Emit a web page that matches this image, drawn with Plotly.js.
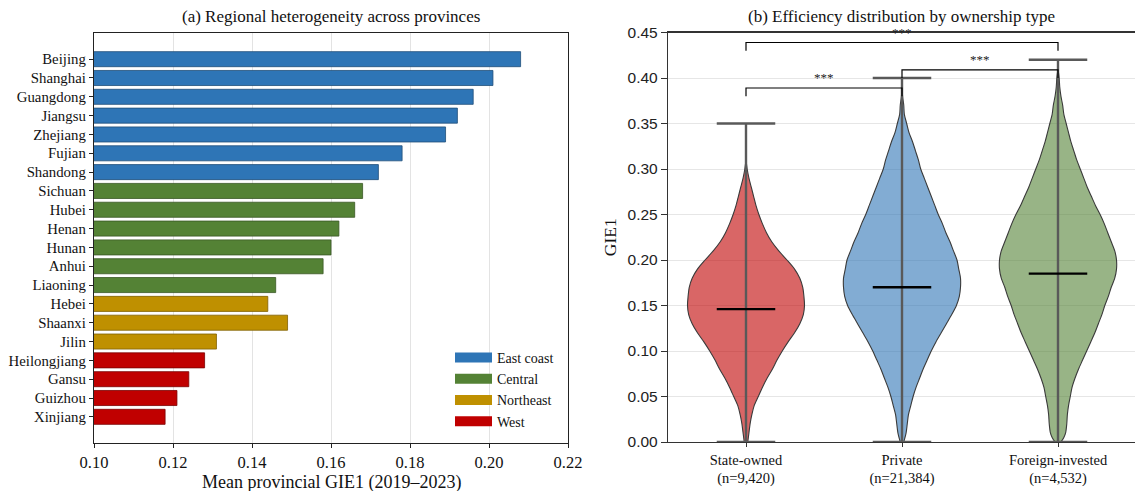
<!DOCTYPE html>
<html>
<head>
<meta charset="utf-8">
<script src="https://cdn.plot.ly/plotly-3.0.1.min.js"></script>
<style>
  html, body { margin: 0; padding: 0; background: #ffffff; }
  #chart { width: 1135px; height: 491px; }
</style>
</head>
<body>
<div id="chart"></div>
<script>
// ---------- Panel (a): provincial means ----------
const provinces = ["Beijing", "Shanghai", "Guangdong", "Jiangsu", "Zhejiang", "Fujian", "Shandong",
  "Sichuan", "Hubei", "Henan", "Hunan", "Anhui", "Liaoning", "Hebei", "Shaanxi", "Jilin",
  "Heilongjiang", "Gansu", "Guizhou", "Xinjiang"];
const provinceGIE = [0.208, 0.201, 0.196, 0.192, 0.189, 0.178, 0.172,
  0.168, 0.166, 0.162, 0.160, 0.158, 0.146, 0.144, 0.149, 0.131,
  0.128, 0.124, 0.121, 0.118];
const provinceRegion = ["East coast", "East coast", "East coast", "East coast", "East coast", "East coast", "East coast",
  "Central", "Central", "Central", "Central", "Central", "Central", "Northeast", "Northeast", "Northeast",
  "West", "West", "West", "West"];
const regionNames = ["East coast", "Central", "Northeast", "West"];

// ---------- Panel (b): distributions by ownership ----------
const ownershipLabels = ["State-owned<br>(n=9,420)", "Private<br>(n=21,384)", "Foreign-invested<br>(n=4,532)"];
const ownershipMin = [0.00, 0.00, 0.00];
const ownershipMax = [0.35, 0.40, 0.42];
const ownershipMean = [0.146, 0.170, 0.185];

// kernel density profiles (scaled to peak = 1) on a GIE1 grid
const stateGrid = [0.000, 0.010, 0.020, 0.030, 0.040, 0.050, 0.060, 0.070, 0.080, 0.090, 0.100, 0.110, 0.120, 0.130,
  0.140, 0.150, 0.160, 0.170, 0.180, 0.190, 0.200, 0.210, 0.220, 0.230, 0.240, 0.250, 0.260, 0.270, 0.280, 0.290, 0.300, 0.310];
const stateDensity = [0.03, 0.05, 0.07, 0.10, 0.14, 0.21, 0.28, 0.36, 0.45, 0.53, 0.62, 0.72, 0.83, 0.92,
  0.98, 1.00, 0.99, 0.97, 0.92, 0.83, 0.70, 0.56, 0.44, 0.35, 0.28, 0.22, 0.17, 0.13, 0.09, 0.05, 0.02, 0.00];

const privateGrid = [0.000, 0.010, 0.020, 0.030, 0.040, 0.050, 0.060, 0.070, 0.080, 0.090, 0.100, 0.110, 0.120, 0.130,
  0.140, 0.150, 0.160, 0.170, 0.180, 0.190, 0.200, 0.210, 0.220, 0.230, 0.240, 0.250, 0.260, 0.270, 0.280, 0.290,
  0.300, 0.310, 0.320, 0.330, 0.340, 0.350, 0.360, 0.370, 0.380, 0.395];
const privateDensity = [0.03, 0.07, 0.09, 0.11, 0.15, 0.19, 0.24, 0.30, 0.36, 0.43, 0.50, 0.58, 0.67, 0.76,
  0.85, 0.93, 0.98, 1.00, 1.00, 0.97, 0.94, 0.88, 0.82, 0.75, 0.69, 0.62, 0.56, 0.50, 0.44, 0.38,
  0.32, 0.28, 0.23, 0.18, 0.12, 0.08, 0.04, 0.03, 0.01, 0.00];

const foreignGrid = [0.000, 0.005, 0.010, 0.020, 0.030, 0.040, 0.050, 0.060, 0.070, 0.080, 0.090, 0.100, 0.110, 0.120,
  0.130, 0.140, 0.150, 0.160, 0.170, 0.180, 0.190, 0.200, 0.210, 0.220, 0.230, 0.240, 0.250, 0.260, 0.270, 0.280,
  0.290, 0.300, 0.310, 0.320, 0.330, 0.340, 0.350, 0.360, 0.370, 0.380, 0.390, 0.400, 0.410];
const foreignDensity = [0.05, 0.10, 0.13, 0.15, 0.16, 0.18, 0.21, 0.24, 0.29, 0.35, 0.42, 0.49, 0.56, 0.63,
  0.69, 0.75, 0.80, 0.86, 0.91, 0.97, 1.00, 1.00, 0.97, 0.91, 0.85, 0.79, 0.72, 0.64, 0.57, 0.50,
  0.44, 0.38, 0.32, 0.27, 0.22, 0.18, 0.14, 0.10, 0.08, 0.05, 0.03, 0.02, 0.00];

// pairwise significance tests
const sigPairs = [[1, 2], [2, 3], [1, 3]];
const sigBase = [0.380, 0.400, 0.430];
const sigTop = [0.389, 0.409, 0.439];
const sigLabels = ["***", "***", "***"];

// ---------- styling ----------
const SERIF = "Liberation Serif, Times New Roman, serif";
const SANS = "Liberation Sans, Arial, sans-serif";
const regionFill = { "East coast": "#2E75B6", "Central": "#548235", "Northeast": "#BF9000", "West": "#C00000" };
const regionEdge = { "East coast": "#1F4E79", "Central": "#385723", "Northeast": "#7F6000", "West": "#7A0000" };
const violinFill = ["rgba(192,0,0,0.6)", "rgba(46,117,182,0.6)", "rgba(84,130,53,0.6)"];
const violinWidth = 0.75;           // full width at density peak (category units)
const capHalf = violinWidth / 4;    // half-length of extrema / mean lines

const traces = [];

// bars, one trace per region so that each gets a legend colour
regionNames.forEach(function (reg) {
  const ys = [], xs = [];
  provinces.forEach(function (p, i) {
    if (provinceRegion[i] === reg) { ys.push(p); xs.push(provinceGIE[i]); }
  });
  traces.push({
    type: "bar", orientation: "h", x: xs, y: ys, base: 0,
    width: 0.8, xaxis: "x", yaxis: "y", showlegend: false,
    marker: { color: regionFill[reg], line: { color: regionEdge[reg], width: 0.8 } },
    hoverinfo: "x+y"
  });
});
// legend swatches
regionNames.forEach(function (reg) {
  traces.push({
    type: "scatter", mode: "lines", x: [null], y: [null], xaxis: "x", yaxis: "y",
    name: reg, showlegend: true, line: { color: regionFill[reg], width: 10 }, hoverinfo: "skip"
  });
});

// violins
const grids = [stateGrid, privateGrid, foreignGrid];
const dens = [stateDensity, privateDensity, foreignDensity];
grids.forEach(function (g, k) {
  const pos = k + 1;
  const xs = [], ys = [];
  for (let i = 0; i < g.length; i++) { xs.push(pos + dens[k][i] * violinWidth / 2); ys.push(g[i]); }
  for (let i = g.length - 1; i >= 0; i--) { xs.push(pos - dens[k][i] * violinWidth / 2); ys.push(g[i]); }
  traces.push({
    type: "scatter", mode: "lines", x: xs, y: ys, xaxis: "x2", yaxis: "y2",
    fill: "toself", fillcolor: violinFill[k],
    line: { color: "#3a3a3a", width: 1.1, shape: "spline", smoothing: 0.8 },
    showlegend: false, hoverinfo: "skip"
  });
});
// extrema bars, caps and mean lines
grids.forEach(function (g, k) {
  const pos = k + 1;
  traces.push({
    type: "scatter", mode: "lines", xaxis: "x2", yaxis: "y2", showlegend: false, hoverinfo: "skip",
    x: [pos, pos, null, pos - capHalf, pos + capHalf, null, pos - capHalf, pos + capHalf],
    y: [ownershipMin[k], ownershipMax[k], null, ownershipMax[k], ownershipMax[k], null, ownershipMin[k], ownershipMin[k]],
    line: { color: "#595959", width: 2.4 }
  });
  traces.push({
    type: "scatter", mode: "lines", xaxis: "x2", yaxis: "y2", showlegend: false,
    x: [pos - capHalf, pos + capHalf], y: [ownershipMean[k], ownershipMean[k]],
    line: { color: "#000000", width: 2.4 }, hoverinfo: "y"
  });
});
// significance brackets
const annotations = [];
sigPairs.forEach(function (pr, i) {
  traces.push({
    type: "scatter", mode: "lines", xaxis: "x2", yaxis: "y2", showlegend: false, hoverinfo: "skip",
    x: [pr[0], pr[0], pr[1], pr[1]], y: [sigBase[i], sigTop[i], sigTop[i], sigBase[i]],
    line: { color: "#000000", width: 1.2 }
  });
  annotations.push({
    xref: "x2", yref: "y2", x: (pr[0] + pr[1]) / 2, y: sigTop[i], text: sigLabels[i],
    showarrow: false, yanchor: "bottom", yshift: 1,
    font: { family: SERIF, size: 13, color: "#222" }
  });
});

// panel titles and the x-axis title of panel (a)
annotations.push({
  xref: "paper", yref: "paper", x: 0.2916, y: 1 - 17 / 491, text: "(a) Regional heterogeneity across provinces",
  showarrow: false, xanchor: "center", yanchor: "middle", font: { family: SERIF, size: 17, color: "#111" }
});
annotations.push({
  xref: "paper", yref: "paper", x: 0.7947, y: 1 - 17 / 491, text: "(b) Efficiency distribution by ownership type",
  showarrow: false, xanchor: "center", yanchor: "middle", font: { family: SERIF, size: 17, color: "#111" }
});
annotations.push({
  xref: "paper", yref: "paper", x: 331 / 1135, y: 1 - 482 / 491, text: "Mean provincial GIE1 (2019\u20132023)",
  showarrow: false, xanchor: "center", yanchor: "middle", font: { family: SERIF, size: 18, color: "#111" }
});

const layout = {
  width: 1135, height: 491,
  margin: { l: 0, r: 0, t: 0, b: 0 },
  paper_bgcolor: "#ffffff", plot_bgcolor: "#ffffff",
  barmode: "overlay",
  showlegend: true,
  legend: {
    x: 450 / 1135, y: 1 - 342 / 491, xanchor: "left", yanchor: "top",
    bgcolor: "rgba(255,255,255,0)", borderwidth: 0, itemwidth: 37,
    font: { family: SERIF, size: 14, color: "#111" }, tracegroupgap: 0
  },
  xaxis: {
    domain: [94 / 1135, 568 / 1135], anchor: "y",
    range: [0.10, 0.22], dtick: 0.02, tick0: 0.10, tickformat: ".2f",
    showgrid: true, gridcolor: "#e3e3e3", gridwidth: 1, zeroline: false,
    showline: true, linecolor: "#222", linewidth: 1.2, mirror: true,
    ticks: "outside", ticklen: 4, tickcolor: "#222",
    tickfont: { family: SERIF, size: 16.5, color: "#111" }
  },
  yaxis: {
    domain: [1 - 443 / 491, 1 - 33 / 491], anchor: "x",
    type: "category", categoryorder: "array", categoryarray: provinces,
    range: [20.39, -1.39], showgrid: false, zeroline: false,
    showline: true, linecolor: "#222", linewidth: 1.2, mirror: true,
    ticks: "outside", ticklen: 4, tickcolor: "#222",
    tickfont: { family: SERIF, size: 14.8, color: "#111" }
  },
  xaxis2: {
    domain: [668 / 1135, 1], anchor: "y2",
    range: [0.5, 0.5 + 3 * (1135 - 668) / 468],
    tickvals: [1, 2, 3], ticktext: ownershipLabels,
    showgrid: false, zeroline: false,
    showline: true, linecolor: "#333", linewidth: 1.2, mirror: true,
    ticks: "outside", ticklen: 4, tickcolor: "#333",
    tickfont: { family: SERIF, size: 14.5, color: "#111" }
  },
  yaxis2: {
    domain: [1 - 442 / 491, 1 - 32.5 / 491], anchor: "x2",
    range: [0, 0.45], dtick: 0.05, tick0: 0, tickformat: ".2f",
    showgrid: true, gridcolor: "#e6e6e6", gridwidth: 1, zeroline: false,
    showline: true, linecolor: "#333", linewidth: 1.2, mirror: false,
    ticks: "outside", ticklen: 6, tickcolor: "#333",
    tickfont: { family: SANS, size: 15.5, color: "#222" },
    title: { text: "GIE1", font: { family: SERIF, size: 17.5, color: "#111" }, standoff: 6 }
  },
  annotations: annotations
};

Plotly.newPlot("chart", traces, layout, { displayModeBar: false, staticPlot: true });
</script>
</body>
</html>
